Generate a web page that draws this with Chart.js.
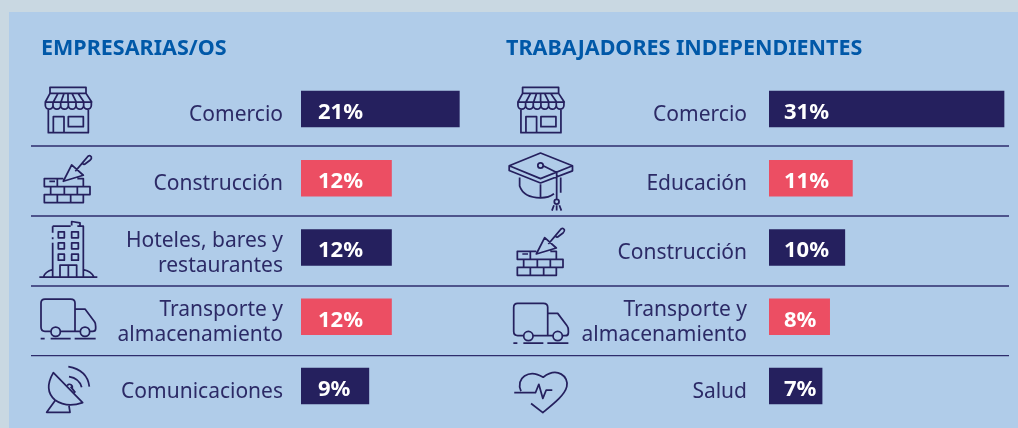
<!DOCTYPE html>
<html lang="es">
<head>
<meta charset="utf-8">
<title>Sectores</title>
<script src="https://cdn.jsdelivr.net/npm/chart.js@4"></script>
<style>
html,body{margin:0;padding:0;width:1018px;height:428px;overflow:hidden;background:#c9d8e2}
#panel{position:absolute;left:9px;top:12px;width:1009px;height:416px;background:#b0cce9}
canvas{position:absolute;top:0}
#cL{left:0}
#cR{left:495px}
</style>
</head>
<body>
<div id="panel"></div>
<canvas id="cL" width="495" height="428"></canvas>
<canvas id="cR" width="523" height="428"></canvas>
<script>
const leftTitle = "EMPRESARIAS/OS";
const leftCategories = ["Comercio", "Construcción", ["Hoteles, bares y", "restaurantes"], ["Transporte y", "almacenamiento"], "Comunicaciones"];
const leftValues = [21, 12, 12, 12, 9];
const leftTone = ["navy", "red", "navy", "red", "navy"];
const leftIcons = ["shop", "bricks", "building", "truck", "dish"];

const rightTitle = "TRABAJADORES INDEPENDIENTES";
const rightCategories = ["Comercio", "Educación", "Construcción", ["Transporte y", "almacenamiento"], "Salud"];
const rightValues = [31, 11, 10, 8, 7];
const rightTone = ["navy", "red", "navy", "red", "navy"];
const rightIcons = ["shop", "cap", "bricks", "truck", "heart"];

const NAVY = "#25205e", RED = "#ec4e63", TEXT = "#2c2a66", BLUE = "#0058a8";
const FONT = "'Noto Sans', 'Open Sans', sans-serif";
const tones = {navy: NAVY, red: RED};

function scallops(){
  let d = "";
  for (let i = 0; i < 6; i++) { const x = 136 + i * 23; d += `M${x} 306 v10 a11.5 11.5 0 0 0 23 0 v-10 `; }
  return d;
}
const icons = {
  shop: {s:3, cy:327, x0:0, d:"M150 280 V262 H258 V280 M150 280 H258 L275 306 H136 Z M174 280 L160 306 M192 280 L183 306 M204 280 V306 M216 280 L229 306 M234 280 L252 306 " + scallops() + "M145 328 V398 H265 V328 M160 398 V350 H192 V398 M205 350 H250 V380 H205 Z"},
  bricks: {s:3, cy:537, x0:0, d:"M190 538 H133 V562 H190 M172 538 V562 M148 546 H165 M232 538 H250 V562 H210 M152 562 H270 V586 H152 Z M193 562 V586 M232 562 V586 M133 586 H250 V610 H133 Z M172 586 V610 M212 586 V610 M215 497 L190 546 L250 528 Z M226 516 L248 490 M248 490 L264 471 Q270 467 274 473 Q276 478 270 483 L254 495 Q248 497 248 490 Z"},
  building: {s:3, cy:114, x0:0, d:"M118 203 H292 M158 50 H212 M215 48 V36 L240 40 V48 M232 50 H250 V203 M158 50 V70 M158 83 V89 M158 100 V203 M175 67 H193 V85 H175 Z M215 67 H235 V85 H215 Z M175 100 H193 V118 H175 Z M215 100 H235 V118 H215 Z M175 134 H193 V152 H175 Z M215 134 H235 V152 H215 Z M180 203 V167 H230 V203 M205 167 V203 M130 203 Q135 186 158 180 M250 180 Q275 186 282 203"},
  truck: {s:3, cy:321, x0:0, d:"M151 365 H135 Q123 365 123 352 V280 Q123 268 135 268 H212 Q225 268 225 280 V365 M183 365 H239 M225 298 H255 L283 335 Q287 340 287 350 V356 Q287 365 278 365 H271 M181 366 a14 14 0 1 1 -28 0 a14 14 0 1 1 28 0 M269 366 a14 14 0 1 1 -28 0 a14 14 0 1 1 28 0 M122 387 H134 M152 387 H212 M224 387 H287"},
  dish: {s:3, cy:528, x0:0, d:"M160 488 Q130 540 165 570 Q200 595 248 578 Z M202 527 a8 8 0 1 1 14 8 M212 530 L226 548 M165 572 L140 607 H210 L207 588 M207 500 Q238 505 245 532 M205 470 Q262 480 268 530"},
  cap: {s:2.97, cy:532, x0:490, d:"M150 457 L245 495 L150 533 L57 495 Z M57 495 V509 L150 546 L245 510 V495 M158 495 L198 515 V595 M205 602 a7 7 0 1 1 -14 0 a7 7 0 1 1 14 0 M190 612 L184 628 M198 612 V628 M206 612 L212 628 M88 530 V555 Q100 590 150 590 Q175 590 190 578 M150 550 V590 M210 530 V575 M158 494 a8 8 0 1 1 -16 0 a8 8 0 1 1 16 0"},
  heart: {s:2.97, cy:523, x0:490, d:"M72 543 H135 L145 518 L157 560 L167 535 H185 M92 538 C75 500 115 470 158 497 C200 465 235 495 228 525 C222 550 190 575 157 602 L122 575"}
};

function makeChart(id, o){
  const ctx = document.getElementById(id);
  const deco = {
    id: "deco",
    afterDraw(chart){
      const c = chart.ctx, ys = chart.scales.y, xs = chart.scales.x;
      const n = o.labels.length;
      c.save();
      // row separators
      c.strokeStyle = "#2e2c6c";
      c.lineWidth = 1.4;
      for (let i = 0; i < n - 1; i++) {
        const y = (ys.getPixelForTick(i) + ys.getPixelForTick(i + 1)) / 2 + o.sepNudge[i];
        c.beginPath(); c.moveTo(o.sepFrom, y); c.lineTo(o.sepTo, y); c.stroke();
      }
      // icons
      o.icons.forEach((name, i) => {
        const ic = icons[name], place = o.place[name] || {dx:0, dy:0};
        c.save();
        c.translate(ic.x0 + place.dx - o.canvasLeft, ys.getPixelForTick(i) + place.dy);
        c.scale(1 / ic.s, 1 / ic.s);
        c.translate(0, -ic.cy);
        c.strokeStyle = NAVY;
        c.lineWidth = 5.2;
        c.lineJoin = "round";
        c.stroke(new Path2D(ic.d));
        c.restore();
      });
      // value labels inside the bars
      c.fillStyle = "#ffffff";
      c.font = "700 22px " + FONT;
      c.textAlign = "left";
      c.textBaseline = "middle";
      chart.getDatasetMeta(0).data.forEach((bar, i) => {
        c.fillText(o.values[i] + "%", xs.getPixelForValue(0) + o.inset, bar.y + 3.5);
      });
      c.restore();
    }
  };
  return new Chart(ctx, {
    type: "bar",
    plugins: [deco],
    data: {
      labels: o.labels,
      datasets: [{
        data: o.values,
        backgroundColor: o.tone.map(t => tones[t]),
        barThickness: 36,
        borderWidth: 0
      }]
    },
    options: {
      indexAxis: "y",
      responsive: false,
      animation: false,
      layout: {autoPadding: false, padding: {left: o.padLeft, right: o.padRight, top: 36, bottom: 7.4}},
      plugins: {
        legend: {display: false},
        tooltip: {enabled: false},
        title: {
          display: true, text: o.title, align: "start", color: BLUE,
          font: {family: FONT, size: 21.5, weight: "700", lineHeight: 1.2},
          padding: {top: 0, bottom: 12.6}
        }
      },
      scales: {
        x: {display: false, min: 0, max: o.max},
        y: {
          afterFit(s){ s.width = o.axisWidth; s.paddingTop = 0; s.paddingBottom = 0; },
          grid: {display: false, drawTicks: false},
          border: {display: false},
          ticks: {
            color: TEXT, padding: o.labelGap, labelOffset: 6, autoSkip: false,
            font: {family: FONT, size: 21, lineHeight: 1.19}
          }
        }
      }
    }
  });
}

makeChart("cL", {
  title: leftTitle, labels: leftCategories, values: leftValues, tone: leftTone, icons: leftIcons,
  max: 25, padLeft: 41, padRight: 5.5, axisWidth: 260, inset: 17, labelGap: 18,
  sepFrom: 31, sepTo: 495, canvasLeft: 0, sepNudge: [2.4, 3.1, 3.9, 4.3],
  place: {}
});
makeChart("cR", {
  title: rightTitle, labels: rightCategories, values: rightValues, tone: rightTone, icons: rightIcons,
  max: 32, padLeft: 11, padRight: 6.4, axisWidth: 263, inset: 15, labelGap: 22,
  sepFrom: 0, sepTo: 514, canvasLeft: 495, sepNudge: [2.4, 3.1, 3.9, 4.3],
  place: {shop: {dx: 472.6, dy: 0}, bricks: {dx: 473, dy: 3.5}, truck: {dx: 472.7, dy: 4.3}, cap: {dx: 0, dy: 0}, heart: {dx: 0, dy: 0}}
});
</script>
</body>
</html>
